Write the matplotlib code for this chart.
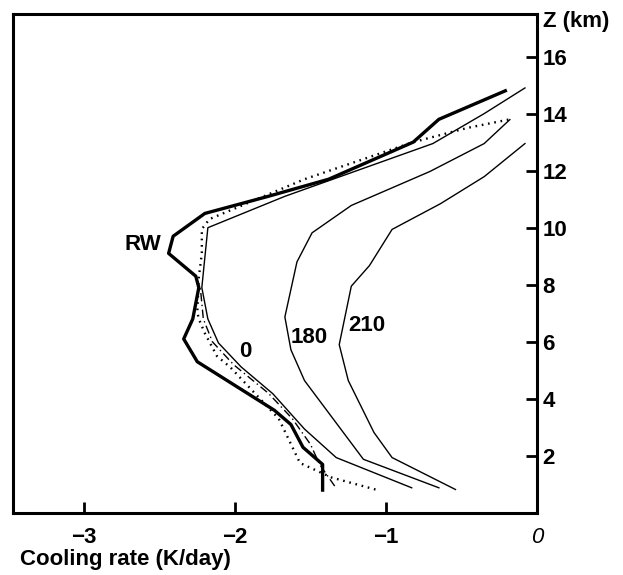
import matplotlib
matplotlib.use("Agg")
import matplotlib.pyplot as plt

plt.rcParams["font.family"] = ["Liberation Sans", "DejaVu Sans"]

# Cooling-rate profiles (height in km, cooling rate in K/day)
z_rw = [0.8, 1.7, 2.3, 3.1, 3.6, 5.3, 6.1, 6.8, 7.9, 8.3, 9.1, 9.7, 10.5, 11.1, 11.7, 13.0, 13.8, 14.8]
q_rw = [-1.42, -1.42, -1.55, -1.63, -1.74, -2.25, -2.34, -2.28, -2.24, -2.26, -2.44, -2.41, -2.20, -1.78, -1.38, -0.82, -0.65, -0.21]

z_dot = [0.82, 1.24, 1.75, 3.3, 5.1, 5.5, 6.3, 6.8, 7.05, 8.25, 9.1, 9.95, 10.3, 11.7, 13.0, 13.5, 13.8]
q_dot = [-1.07, -1.36, -1.57, -1.71, -2.03, -2.12, -2.20, -2.24, -2.25, -2.24, -2.22, -2.22, -2.17, -1.54, -0.82, -0.46, -0.18]

z_dd = [0.94, 1.7, 2.4, 3.3, 4.2, 5.2, 6.0, 6.8, 7.9]
q_dd = [-1.34, -1.44, -1.50, -1.62, -1.78, -2.01, -2.15, -2.21, -2.23]

z_0 = [0.88, 1.94, 2.94, 4.18, 5.12, 5.96, 6.8, 7.9, 10.0, 11.1, 12.95, 14.0, 14.9]
q_0 = [-0.83, -1.33, -1.54, -1.75, -1.96, -2.11, -2.18, -2.22, -2.18, -1.67, -0.69, -0.35, -0.08]

z_180 = [0.88, 1.88, 4.64, 5.72, 6.87, 8.8, 9.82, 10.78, 11.97, 12.95, 13.79]
q_180 = [-0.65, -1.15, -1.54, -1.63, -1.67, -1.59, -1.49, -1.23, -0.71, -0.35, -0.18]

z_210 = [0.82, 1.94, 2.82, 4.64, 5.90, 7.95, 8.67, 9.94, 10.84, 11.79, 12.95]
q_210 = [-0.54, -0.96, -1.08, -1.25, -1.31, -1.23, -1.11, -0.96, -0.64, -0.35, -0.08]

x_ticks = [-3, -2, -1, 0]
x_tick_labels = ["\u22123", "\u22122", "\u22121", "0"]
y_ticks = [2, 4, 6, 8, 10, 12, 14, 16]

fig = plt.figure(figsize=(6.23, 5.75), dpi=100)
ax = fig.add_axes([0.021, 0.108, 0.841, 0.868])

ax.plot(q_rw, z_rw, color="black", lw=2.4)
ax.plot(q_dot, z_dot, color="black", lw=1.7, linestyle=(0, (0.7, 2.0)))
ax.plot(q_dd, z_dd, color="black", lw=1.0, linestyle=(0, (6, 2.5, 1, 2.5)))
ax.plot(q_0, z_0, color="black", lw=1.0)
ax.plot(q_180, z_180, color="black", lw=1.0)
ax.plot(q_210, z_210, color="black", lw=1.0)

lab = dict(fontsize=16, fontweight="bold", ha="center", va="center")
ax.text(-2.61, 9.42, "RW", **lab)
ax.text(-1.93, 5.66, "0", **lab)
ax.text(-1.51, 6.14, "180", **lab)
ax.text(-1.13, 6.57, "210", **lab)

ax.set_xlim(-3.47, 0)
ax.set_ylim(0, 17.5)

for s in ax.spines.values():
    s.set_linewidth(2.2)

ax.set_xticks(x_ticks)
ax.set_xticklabels(x_tick_labels, fontsize=16, fontweight="bold")
ax.get_xticklabels()[-1].set_style("italic")
ax.get_xticklabels()[-1].set_fontweight("normal")
ax.tick_params(axis="x", direction="in", length=8, width=2, pad=10)

ax.yaxis.tick_right()
ax.set_yticks(y_ticks)
ax.set_yticklabels([str(v) for v in y_ticks], fontsize=16, fontweight="bold")
ax.tick_params(axis="y", direction="in", length=8, width=2, pad=4)

ax.text(1.012, 1.005, "Z (km)", transform=ax.transAxes, fontsize=16,
        fontweight="bold", ha="left", va="top")
fig.text(20 / 623, 1 - 560 / 575, "Cooling rate (K/day)", fontsize=16,
         fontweight="bold", ha="left", va="center")

fig.savefig("out.png", dpi=100)
